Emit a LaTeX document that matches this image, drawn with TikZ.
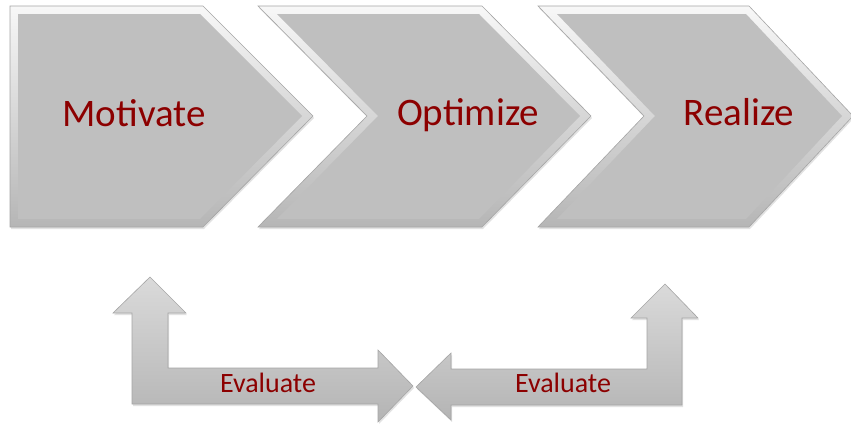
\documentclass[tikz,border=0pt]{standalone}
\usepackage{fontspec}
\setmainfont{Carlito}
\usetikzlibrary{calc}
\definecolor{textred}{RGB}{140,0,0}
\definecolor{facegray}{RGB}{191,191,191}
\definecolor{edgegray}{RGB}{165,165,165}
\definecolor{arrowtop}{RGB}{218,218,218}
\definecolor{arrowbottom}{RGB}{180,180,180}

\begin{document}
\begin{tikzpicture}[x=1pt,y=-1pt,
  bevel/.style={top color=white!94!gray, bottom color=facegray!95!black, draw=edgegray, line width=0.6pt},
  face/.style={fill=facegray},
  arrowbody/.style={top color=arrowtop, bottom color=arrowbottom, draw=edgegray, line width=0.6pt},
  stagetext/.style={text=textred, font=\fontsize{39}{39}\selectfont, anchor=base},
  evaltext/.style={text=textred, font=\fontsize{28}{28}\selectfont, anchor=base}]
\useasboundingbox (0,0) rectangle (851,423);
% chevrons: left / notch / body right / tip / inset left / inset notch
\foreach \l/\n/\r/\t/\li/\ni in {10/10/203/313/18/18, 258/367/482/591/277/378, 538/644/749/853/557/655} {
  \fill[gray!45, opacity=0.5] (\l+1,8) -- (\r+1,8) -- (\t+1,118) -- (\r+1,229) -- (\l+1,229) -- (\n+1,118) -- cycle;
  \path[bevel] (\l,6) -- (\r,6) -- (\t,116) -- (\r,227) -- (\l,227) -- (\n,116) -- cycle;
  \path[face] (\li,14) -- (\r-3,14) -- (\t-11,116) -- (\r-3,219) -- (\li,219) -- (\ni,116) -- cycle;
}
\node[stagetext] (motivate) at (134,126) {Motivate};
\node[stagetext] (optimize) at (468,125) {Optimize};
\node[stagetext] (realize) at (739,125) {Realize};
% bent arrows
\fill[gray!45, opacity=0.5] (151,279) -- (187,315) -- (169,315) -- (169,370) -- (379,370) -- (379,352) -- (414,388) -- (379,424) -- (379,406) -- (133,406) -- (133,315) -- (114,315) -- cycle;
\path[arrowbody] (150,277) -- (186,313) -- (168,313) -- (168,368) -- (378,368) -- (378,350) -- (413,386) -- (378,422) -- (378,404) -- (132,404) -- (132,313) -- (113,313) -- cycle;
\fill[gray!45, opacity=0.5] (666,286) -- (699,320) -- (683,320) -- (683,407) -- (452,407) -- (452,422) -- (417,389) -- (452,355) -- (452,371) -- (648,371) -- (648,320) -- (632,320) -- cycle;
\path[arrowbody] (665,284) -- (698,318) -- (682,318) -- (682,405) -- (451,405) -- (451,420) -- (416,387) -- (451,353) -- (451,369) -- (647,369) -- (647,318) -- (631,318) -- cycle;
\node[evaltext] (evalleft) at (268,392) {Evaluate};
\node[evaltext] (evalright) at (563,392) {Evaluate};
\end{tikzpicture}
\end{document}
